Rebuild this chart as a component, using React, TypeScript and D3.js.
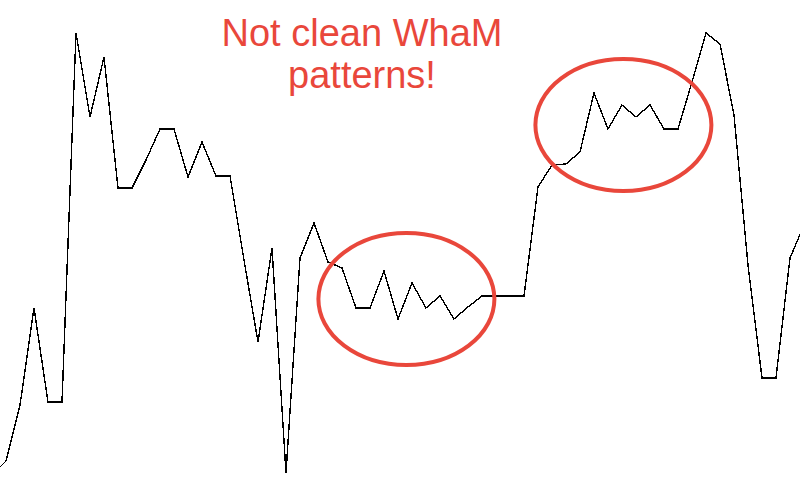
import React from 'react';
import * as d3 from 'd3';

// price series, one value per bar (higher = higher on screen)
const prices = [
  7, 21, 77, 174, 80, 80, 449, 365, 425, 294, 294, 322, 353, 353, 305, 340,
  306, 306, 222, 140, 234, 9, 224, 259, 220, 214, 174, 174, 211, 163, 199, 174,
  186, 163, 175, 186, 186, 186, 186, 295, 317, 318, 330, 389, 353, 377, 365, 377,
  353, 353, 400, 449, 438, 367, 217, 104, 104, 224, 257,
];

// highlighted zones: [bar index of centre, price of centre]
const zones = [
  { bar: 29.6, price: 183 },
  { bar: 45.1, price: 357 },
];

const titleLines = ['Not clean WhaM', 'patterns!'];

const width = 800;
const height = 482;
const red = '#e9473b';

const App: React.FC = () => {
  const x = d3.scaleLinear().domain([0, prices.length - 1]).range([-8, 804]);
  const y = d3.scaleLinear().domain([0, height]).range([height, 0]);

  const line = d3.line<number>()
    .x((_, i) => x(i))
    .y(d => y(d));

  return (
    <div style={{ position: 'absolute', left: 0, top: 0 }}>
      <svg width={width} height={height} style={{ display: 'block', background: '#fff' }}>
        <path
          d={line(prices) || ''}
          fill="none"
          stroke="#000"
          strokeWidth={1.4}
          shapeRendering="crispEdges"
        />
        {zones.map((z, i) => (
          <ellipse
            key={i}
            cx={x(z.bar)}
            cy={y(z.price)}
            rx={88}
            ry={66}
            fill="none"
            stroke={red}
            strokeWidth={4}
          />
        ))}
        {titleLines.map((t, i) => (
          <text
            key={t}
            x={362}
            y={46 + i * 42}
            textAnchor="middle"
            fill={red}
            fontSize={38}
            fontFamily="'Liberation Sans', Arial, sans-serif"
          >
            {t}
          </text>
        ))}
      </svg>
    </div>
  );
};

export default App;
